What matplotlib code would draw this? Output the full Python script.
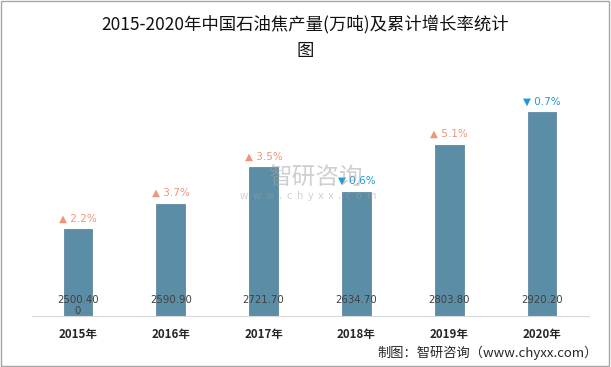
import matplotlib
matplotlib.use('Agg')
import matplotlib.pyplot as plt
from matplotlib.patches import Rectangle

plt.rcParams['font.family'] = ['Noto Sans CJK SC', 'DejaVu Sans']

# 数据
years = ['2015年', '2016年', '2017年', '2018年', '2019年', '2020年']
output = [2500.40, 2590.90, 2721.70, 2634.70, 2803.80, 2920.20]
value_labels = ['2500.40\n0', '2590.90', '2721.70', '2634.70', '2803.80', '2920.20']
growth = [2.2, 3.7, 3.5, -0.6, 5.1, -0.7]

fig = plt.figure(figsize=(6.11, 3.67), dpi=100)
ax = fig.add_axes([0.0516, 0.139, 0.9116, 0.616])

x = range(len(years))
ax.bar(x, output, width=0.31, color='#5b8ea6', edgecolor='#4f7f96', linewidth=0.5, zorder=2)
ax.set_xlim(-0.5, len(years) - 0.5)
ax.set_ylim(2188, 3000)

# 柱内数值
for i, v in enumerate(value_labels):
    ax.annotate(v, (i, 2188), xytext=(0, 15), textcoords='offset points',
                ha='center', va='top', fontsize=7.3, color='#404040',
                linespacing=1.15, family=['DejaVu Sans'], zorder=3)

# 增长率
for i, g in enumerate(growth):
    if g >= 0:
        s, c = '▲ ' + '%.1f%%' % g, '#f0947a'
    else:
        s, c = '▼ ' + '%.1f%%' % abs(g), '#1a9ad6'
    ax.annotate(s, (i, output[i]), xytext=(0, 4), textcoords='offset points',
                ha='center', va='bottom', fontsize=7.5, color=c,
                family=['DejaVu Sans'], zorder=3)

ax.set_xticks(list(x))
ax.set_xticklabels(years, fontsize=8.3, fontweight='bold', color='#262626')
ax.tick_params(axis='x', length=0, pad=9)
ax.set_yticks([])
for sp in ['top', 'left', 'right']:
    ax.spines[sp].set_visible(False)
ax.spines['bottom'].set_color('#d9d9d9')

# 水印
fig.text(0.438, 0.515, '智研咨询', fontsize=17, color='#a0a0a0', alpha=0.5, ha='left', va='center', zorder=5)
fig.text(0.393, 0.465, 'w  w  w  .  c  h  y  x  x  .  c  o  m', fontsize=7.5, color='#a0a0a0', alpha=0.5,
         ha='left', va='center', zorder=5)

fig.text(0.5, 0.935, '2015-2020年中国石油焦产量(万吨)及累计增长率统计', fontsize=12.5,
         ha='center', va='center', color='#111111', fontweight='medium')
fig.text(0.5, 0.86, '图', fontsize=12.5, ha='center', va='center', color='#111111', fontweight='medium')
fig.text(0.978, 0.038, '制图：智研咨询（www.chyxx.com）', fontsize=9.5,
         ha='right', va='center', color='#262626')

fig.add_artist(Rectangle((0.002, 0.003), 0.995, 0.993, transform=fig.transFigure,
                         fill=False, edgecolor='#a6a6a6', linewidth=1))

fig.savefig('out.png', dpi=100)
